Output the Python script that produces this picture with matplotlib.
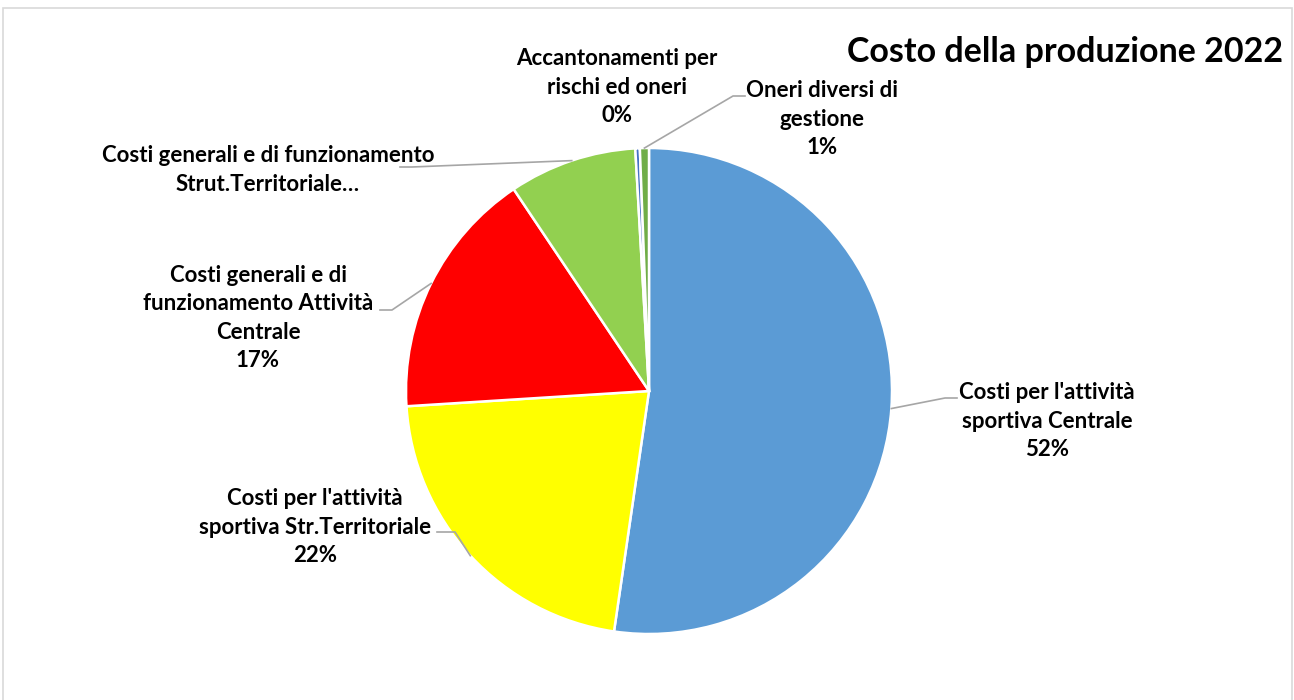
import numpy as np
import matplotlib
matplotlib.use("Agg")
import matplotlib.pyplot as plt
from matplotlib.patches import Rectangle

# --- data ---
labels = [
    "Costi per l'attività\nsportiva Centrale",
    "Costi per l'attività\nsportiva Str.Territoriale",
    "Costi generali e di\nfunzionamento Attività\nCentrale",
    "Costi generali e di funzionamento\nStrut.Territoriale…",
    "Accantonamenti per\nrischi ed oneri",
    "Oneri diversi di\ngestione",
]
shares = [52.3, 21.7, 16.6, 8.5, 0.3, 0.6]
pct_text = ["52%", "22%", "17%", None, "0%", "1%"]
colors = ["#5B9BD5", "#FFFF00", "#FF0000", "#92D050", "#4472C4", "#70AD47"]
title = "Costo della produzione 2022"

W, H = 1294, 700
plt.rcParams["font.family"] = ["Lato", "DejaVu Sans"]

fig = plt.figure(figsize=(W / 100, H / 100), dpi=100)
ax = fig.add_axes([0, 0, 1, 1])

cx, cy, r = 649, H - 391, 243
wedges, _ = ax.pie(shares, colors=colors, startangle=90, counterclock=False,
                   center=(cx, cy), radius=r, frame=True,
                   wedgeprops=dict(edgecolor="white", linewidth=1.8))
ax.set_xlim(0, W)
ax.set_ylim(0, H)
ax.set_aspect("auto")
ax.axis("off")

# chart border
ax.add_patch(Rectangle((3, -5), 1289, H - 8 + 5, fill=False, edgecolor="#D9D9D9",
                       linewidth=1.2, zorder=0))

ax.text(1283, H - 52, title, fontsize=24.5, fontweight="bold", ha="right", va="center")

# label layout: (text center x, text center y, elbow point, end point) in image pixels
layout = [
    (1047, 421, (945, 398), (957, 398)),
    (315, 527, (455, 532), (437, 532)),
    (258, 318, (392, 310), (380, 310)),
    (268, 170, (412, 167), (400, 167)),
    (617, 87, None, None),
    (822, 119, (733, 96), (745, 96)),
]

for w, lab, pct, (tx, ty, elbow, end) in zip(wedges, labels, pct_text, layout):
    txt = lab if pct is None else lab + "\n" + pct
    ax.text(tx, H - ty, txt, fontsize=16, fontweight="bold", ha="center",
            va="center", linespacing=1.42)
    if elbow is None:
        continue
    mid = np.deg2rad((w.theta1 + w.theta2) / 2)
    sx, sy = cx + r * np.cos(mid), cy + r * np.sin(mid)
    ax.plot([sx, elbow[0], end[0]], [sy, H - elbow[1], H - end[1]],
            color="#A6A6A6", linewidth=1.2, zorder=1)

fig.savefig("out.png", dpi=100, facecolor="white")
